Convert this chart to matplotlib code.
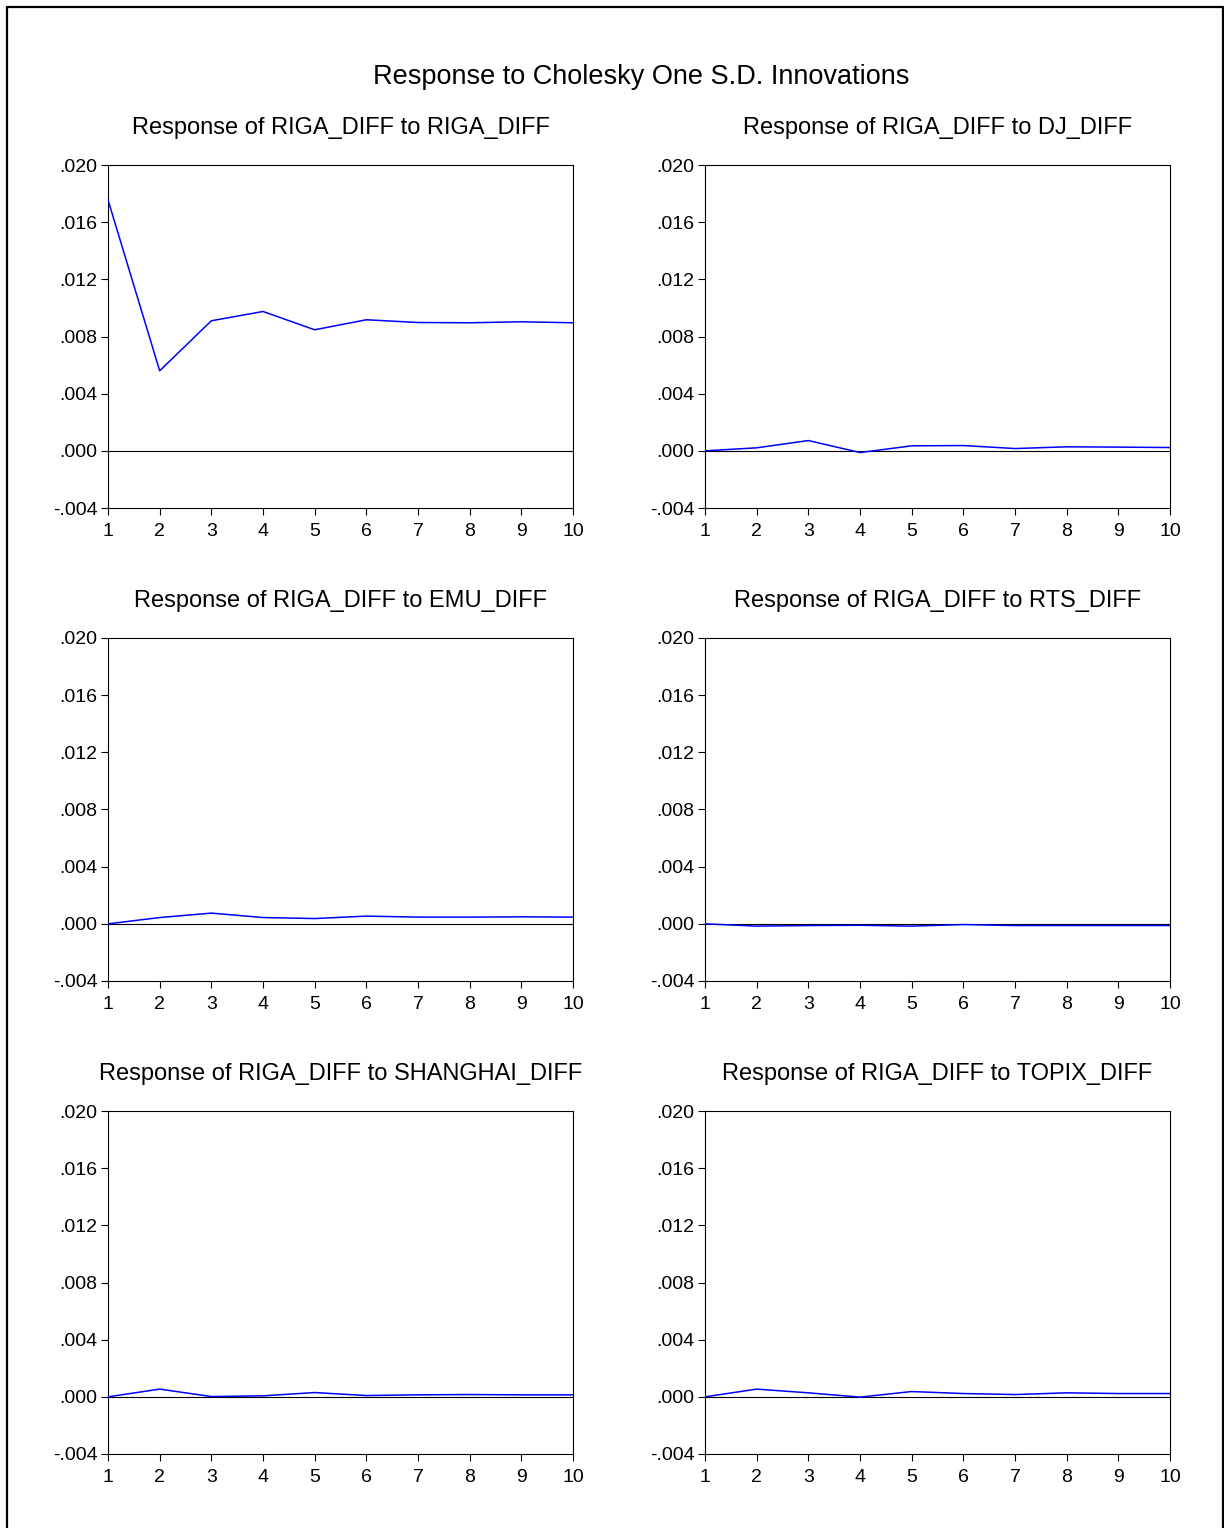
import matplotlib.pyplot as plt
from matplotlib.lines import Line2D

# horizon (periods)
periods = list(range(1, 11))

# responses of RIGA_DIFF to each shock
resp_riga = [0.01756, 0.0056, 0.0091, 0.00975, 0.00847, 0.00917, 0.00898, 0.00896, 0.00903, 0.00896]
resp_dj = [0.0, 0.00021, 0.00072, -0.00012, 0.00035, 0.00037, 0.00016, 0.00028, 0.00026, 0.00023]
resp_emu = [0.0, 0.00044, 0.00075, 0.00044, 0.00037, 0.00054, 0.00047, 0.00047, 0.00049, 0.00047]
resp_rts = [0.0, -0.00016, -0.00012, -0.0001, -0.00016, -0.00005, -0.00012, -0.00012, -0.00012, -0.00012]
resp_shanghai = [0.0, 0.00054, 0.00002, 0.00007, 0.0003, 0.00009, 0.00014, 0.00016, 0.00014, 0.00014]
resp_topix = [0.0, 0.00054, 0.00028, -0.00002, 0.00037, 0.00023, 0.00016, 0.00028, 0.00023, 0.00023]

titles = ["Response of RIGA_DIFF to RIGA_DIFF", "Response of RIGA_DIFF to DJ_DIFF",
          "Response of RIGA_DIFF to EMU_DIFF", "Response of RIGA_DIFF to RTS_DIFF",
          "Response of RIGA_DIFF to SHANGHAI_DIFF", "Response of RIGA_DIFF to TOPIX_DIFF"]
series = [resp_riga, resp_dj, resp_emu, resp_rts, resp_shanghai, resp_topix]

y_ticks = [-0.004, 0.000, 0.004, 0.008, 0.012, 0.016, 0.020]
y_labels = ["-.004", ".000", ".004", ".008", ".012", ".016", ".020"]

plt.rcParams['font.family'] = ['Liberation Sans', 'DejaVu Sans']

W, H = 1224, 1528
fig = plt.figure(figsize=(W / 100, H / 100), dpi=100)

# outer frame (left, top, right)
fig.add_artist(Line2D([7 / W, 7 / W, 1223 / W, 1223 / W], [0, 1 - 7 / H, 1 - 7 / H, 0],
                      transform=fig.transFigure, color='black', lw=1.6))

fig.text(641 / W, 1 - 77 / H, "Response to Cholesky One S.D. Innovations",
         ha='center', va='center', fontsize=19.5)

col_x = [108, 705]
row_top = [165, 638, 1111]
ax_w, ax_h = 465, 343

for i, (ttl, vals) in enumerate(zip(titles, series)):
    r, c = divmod(i, 2)
    x0 = col_x[c]
    y_top = row_top[r]
    ax = fig.add_axes([x0 / W, 1 - (y_top + ax_h) / H, ax_w / W, ax_h / H])
    ax.axhline(0, color='black', lw=0.8, zorder=2)
    ax.plot(periods, vals, color='#0000ff', lw=1.1, zorder=3)
    ax.set_xlim(1, 10)
    ax.set_ylim(-0.004, 0.020)
    ax.set_xticks(periods)
    ax.set_yticks(y_ticks)
    ax.set_yticklabels(y_labels)
    ax.tick_params(direction='out', length=5, width=0.8, labelsize=14)
    ax.tick_params(axis='x', pad=5.5)
    ax.tick_params(axis='y', pad=2.5)
    for s in ax.spines.values():
        s.set_linewidth(0.8)
    ax.set_title(ttl, fontsize=17, pad=22)

fig.savefig("out.png", dpi=100)
